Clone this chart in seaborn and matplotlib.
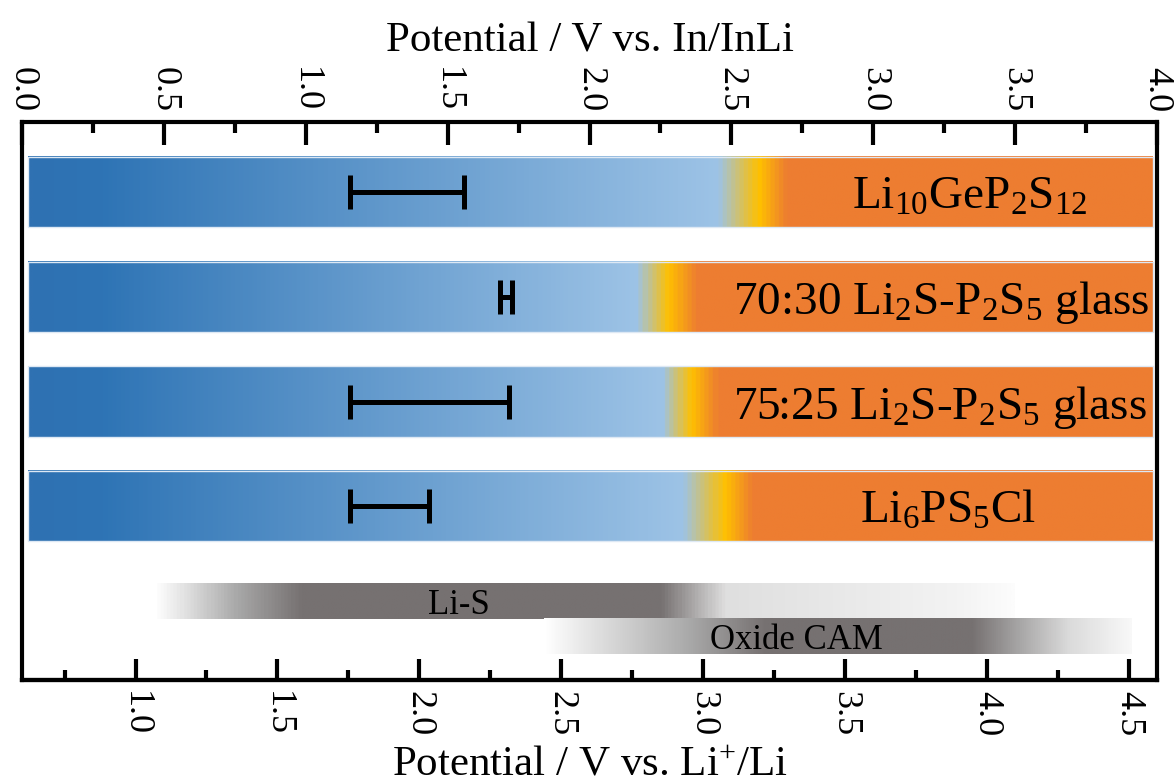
import numpy as np
import pandas as pd
import seaborn as sns
import matplotlib
matplotlib.use('Agg')
import matplotlib.pyplot as plt
from matplotlib.colors import LinearSegmentedColormap
from matplotlib.ticker import MultipleLocator, FixedLocator, FormatStrFormatter

# 数据（上轴: V vs. In/InLi）
electrolytes = ['Li$_{10}$GeP$_2$S$_{12}$',
                '70:30 Li$_2$S-P$_2$S$_5$ glass',
                '75:25 Li$_2$S-P$_2$S$_5$ glass',
                'Li$_6$PS$_5$Cl']
bar_left = [0.021, 0.021, 0.021, 0.021]
bar_right = [3.985, 3.985, 3.985, 3.985]
blue_end = [2.455, 2.17, 2.26, 2.33]
yellow_mid = [2.60, 2.28, 2.36, 2.48]
orange_start = [2.70, 2.38, 2.455, 2.58]
err_low = [1.157, 1.686, 1.157, 1.157]
err_high = [1.556, 1.728, 1.718, 1.436]

# 应用窗口（灰色条）
cam_names = ['Li-S', 'Oxide CAM']
cam_stops = [
    [(0.46, '#FFFFFF'), (0.55, '#E6E6E6'), (0.75, '#A8A8A8'), (0.98, '#767171'),
     (2.25, '#767171'), (2.48, '#DFDFDF'), (2.9, '#E9E9E9'), (3.3, '#F3F3F3'), (3.495, '#FCFCFC')],
    [(1.84, '#FFFFFF'), (2.0, '#E3E3E3'), (2.35, '#A9A9A9'), (2.62, '#767171'),
     (3.35, '#767171'), (3.52, '#A8A7A7'), (3.69, '#DADADA'), (3.91, '#F8F8F8')],
]

li_offset = 0.6  # In/InLi vs Li+/Li
li_ticks = [1.0, 1.5, 2.0, 2.5, 3.0, 3.5, 4.0, 4.5]
li_minor = [0.75, 1.25, 1.75, 2.25, 2.75, 3.25, 3.75, 4.25]

# 布局
label_x = [3.34, 3.24, 3.235, 3.265]
cam_label_x = [1.54, 2.73]
cam_rows = [3.91, 4.245]
cam_height = 0.335

sns.set_theme(style='white')
plt.rcParams['font.family'] = ['Liberation Serif', 'DejaVu Serif']
plt.rcParams['mathtext.fontset'] = 'custom'
plt.rcParams['mathtext.rm'] = 'Liberation Serif'
plt.rcParams['mathtext.it'] = 'Liberation Serif:italic'
plt.rcParams['mathtext.bf'] = 'Liberation Serif:bold'
plt.rcParams['mathtext.default'] = 'rm'
plt.rcParams['text.color'] = 'black'
plt.rcParams['axes.labelcolor'] = 'black'
plt.rcParams['xtick.color'] = 'black'


def gradient(ax, stops, left, right, yc, h, n=800):
    lo, hi = stops[0][0], stops[-1][0]
    pts = [((p - lo) / (hi - lo), c) for p, c in stops]
    cmap = LinearSegmentedColormap.from_list('g', pts)
    xs = np.linspace(left, right, n)
    vals = (xs - lo) / (hi - lo)
    ax.imshow(vals[None, :], cmap=cmap, vmin=0, vmax=1, aspect='auto',
              extent=(left, right, yc + h / 2, yc - h / 2), zorder=0.5,
              interpolation='bilinear')


fig = plt.figure(figsize=(11.75, 7.83), dpi=100)
ax = fig.add_axes([22 / 1175, 1 - 680 / 783, 1135 / 1175, 558 / 783])

df = pd.DataFrame({'name': electrolytes, 'right': bar_right})
sns.barplot(data=df, x='right', y='name', orient='h', width=0.67, color='#ED7D31',
            saturation=1, ax=ax)

for i, patch in enumerate(ax.patches[:len(electrolytes)]):
    patch.set_x(bar_left[i])
    patch.set_width(bar_right[i] - bar_left[i])
    patch.set_facecolor('none')
    patch.set_edgecolor('#DDE8F4')
    patch.set_linewidth(1)
    patch.set_zorder(1)
    yc = patch.get_y() + patch.get_height() / 2
    stops = [(bar_left[i], '#2F71B2'), (0.27, '#2E74B5'), (blue_end[i], '#9DC3E6'),
             (yellow_mid[i], '#FFC000'), (orange_start[i], '#ED7D31'), (bar_right[i], '#ED7D31')]
    gradient(ax, stops, bar_left[i], bar_right[i], yc, patch.get_height())
    ax.text(label_x[i], yc, electrolytes[i], fontsize=34, ha='center',
            va='center_baseline', color='black', zorder=3)

# 误差棒
rows = np.arange(len(electrolytes))
centers = (np.array(err_low) + np.array(err_high)) / 2
halfw = (np.array(err_high) - np.array(err_low)) / 2
ax.errorbar(centers, rows, xerr=halfw, fmt='none', ecolor='black', elinewidth=3.6,
            capsize=12, capthick=3.6, zorder=4)

# 灰色条
for j, name in enumerate(cam_names):
    st = cam_stops[j]
    gradient(ax, st, st[0][0], st[-1][0], cam_rows[j], cam_height)
    ax.text(cam_label_x[j], cam_rows[j], name, fontsize=25, ha='center',
            va='center_baseline', color='black', zorder=3)

ax.set_xlim(0, 4)
ax.set_ylim(4.66, -0.67)
ax.set_yticks([])
ax.set_ylabel('')

# 上轴
ax.xaxis.tick_top()
ax.xaxis.set_label_position('top')
ax.xaxis.set_major_locator(MultipleLocator(0.5))
ax.xaxis.set_minor_locator(MultipleLocator(0.25))
ax.xaxis.set_major_formatter(FormatStrFormatter('%.1f'))
ax.tick_params(axis='x', which='both', direction='in', top=True, bottom=False,
               labeltop=True, labelbottom=False, width=3, color='black',
               labelsize=26, labelrotation=-90, pad=7)
ax.tick_params(axis='x', which='major', length=16.5)
ax.tick_params(axis='x', which='minor', length=8)
ax.set_xlabel('Potential / V vs. In/InLi', fontsize=31, labelpad=11)

for s in ax.spines.values():
    s.set_visible(True)
    s.set_color('black')
    s.set_linewidth(3)

# 下轴 (vs. Li+/Li)
sec = ax.secondary_xaxis('bottom', functions=(lambda v: v + li_offset, lambda v: v - li_offset))
sec.xaxis.set_major_locator(FixedLocator(li_ticks))
sec.xaxis.set_minor_locator(FixedLocator(li_minor))
sec.xaxis.set_major_formatter(FormatStrFormatter('%.1f'))
sec.tick_params(axis='x', which='both', direction='in', width=3, color='black',
                labelsize=26, labelrotation=-90, pad=8)
sec.tick_params(axis='x', which='major', length=15)
sec.tick_params(axis='x', which='minor', length=7.5)
sec.spines['bottom'].set_linewidth(3)
sec.spines['bottom'].set_color('black')
sec.set_xlabel('Potential / V vs. Li$^{+}$/Li', fontsize=31, labelpad=7)

fig.savefig('out.png', dpi=100)
